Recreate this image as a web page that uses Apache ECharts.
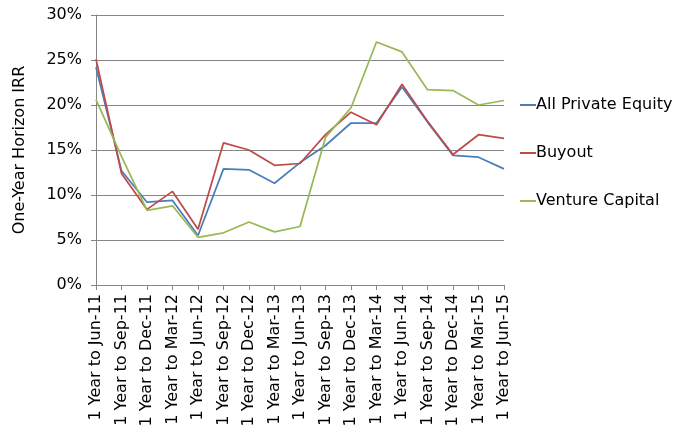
<!DOCTYPE html>
<html style="height: 100%;">
<head>
<meta charset="utf-8">
<title>One-Year Horizon IRR</title>
<script src="https://cdn.jsdelivr.net/npm/echarts@6/dist/echarts.min.js"></script>
</head>
<body style="height: 100%; margin: 0; background: #fff;">
<div id="container" style="width: 688px; height: 434px;"></div>
<script type="text/javascript">
var periods = ['1 Year to Jun-11', '1 Year to Sep-11', '1 Year to Dec-11', '1 Year to Mar-12',
  '1 Year to Jun-12', '1 Year to Sep-12', '1 Year to Dec-12', '1 Year to Mar-13',
  '1 Year to Jun-13', '1 Year to Sep-13', '1 Year to Dec-13', '1 Year to Mar-14',
  '1 Year to Jun-14', '1 Year to Sep-14', '1 Year to Dec-14', '1 Year to Mar-15',
  '1 Year to Jun-15'];
// IRR in percent
var allPE = [24.2, 12.7, 9.2, 9.4, 5.5, 12.9, 12.8, 11.3, 13.6, 15.5, 18.0, 18.0, 22.0, 18.1, 14.4, 14.2, 12.9];
var buyout = [25.1, 12.4, 8.4, 10.4, 6.2, 15.8, 15.0, 13.3, 13.5, 16.7, 19.2, 17.8, 22.3, 18.2, 14.5, 16.7, 16.3];
var venture = [20.6, 14.3, 8.3, 8.8, 5.3, 5.8, 7.0, 5.9, 6.5, 16.4, 19.7, 27.0, 25.9, 21.7, 21.6, 20.0, 20.5];

var font = 'DejaVu Sans';
var dom = document.getElementById('container');
var myChart = echarts.init(dom);

function line(name, data, color) {
  return {
    name: name,
    type: 'line',
    data: data,
    symbol: 'none',
    animation: false,
    lineStyle: { color: color, width: 1.75 },
    itemStyle: { color: color }
  };
}

myChart.setOption({
  animation: false,
  textStyle: { fontFamily: font },
  grid: { left: 96, right: 184, top: 15, bottom: 149 },
  legend: {
    orient: 'vertical',
    left: 514,
    top: 92,
    itemGap: 32,
    itemWidth: 16,
    itemHeight: 2,
    textStyle: { fontFamily: font, fontSize: 16, color: '#000', padding: [0, 0, 0, -5] },
    data: ['All Private Equity', 'Buyout', 'Venture Capital']
  },
  xAxis: {
    type: 'category',
    data: periods,
    boundaryGap: false,
    axisLine: { lineStyle: { color: '#868686' } },
    axisTick: { show: true, length: 5, lineStyle: { color: '#868686' } },
    axisLabel: { rotate: 90, interval: 0, fontSize: 16, color: '#000', fontFamily: font, margin: 9 }
  },
  yAxis: {
    type: 'value',
    min: 0,
    max: 30,
    interval: 5,
    name: 'One-Year Horizon IRR',
    nameLocation: 'middle',
    nameGap: 68,
    nameTextStyle: { fontSize: 16, color: '#000', fontFamily: font },
    axisLine: { show: true, lineStyle: { color: '#868686' } },
    axisTick: { show: true, length: 5, lineStyle: { color: '#868686' } },
    axisLabel: { formatter: '{value}%', fontSize: 16, color: '#000', fontFamily: font, margin: 14 },
    splitLine: { lineStyle: { color: '#868686' } }
  },
  series: [
    line('All Private Equity', allPE, '#4A7EBB'),
    line('Buyout', buyout, '#BE4B48'),
    line('Venture Capital', venture, '#98B954')
  ]
});
</script>
</body>
</html>
